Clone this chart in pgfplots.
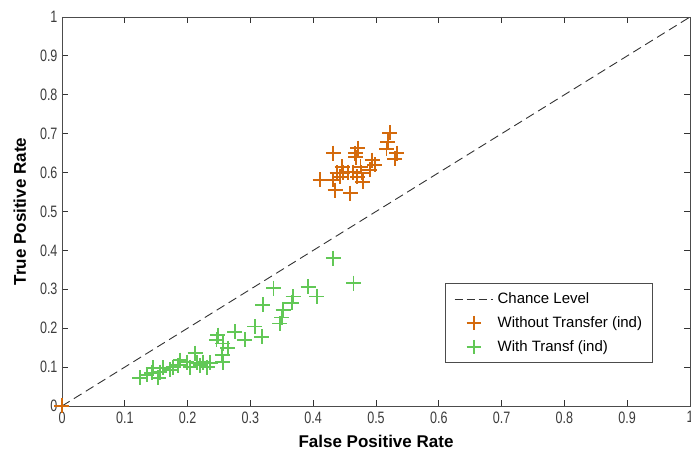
\documentclass[border=0pt]{standalone}
\usepackage{fontspec}
\setmainfont{Liberation Sans}
\usepackage{pgfplots}
\pgfplotsset{compat=1.18}
\definecolor{orng}{RGB}{212,106,12}
\definecolor{grn}{RGB}{98,200,86}
\definecolor{tickgray}{RGB}{60,60,60}
\newcommand{\tl}[1]{\scalebox{0.76}[1]{#1}}
\pgfplotsset{
  leglinedash/.style={legend image code/.code={\draw[black!80, line width=0.9pt, dash pattern=on 8pt off 4pt] (0pt,0pt) -- (38pt,0pt);}},
  legmark/.style={legend image code/.code={\draw[color=#1, mark=+, mark size=7pt, line width=1.7pt, mark options={color=#1}] plot coordinates {(19pt,0pt)};}},
}
\begin{document}
\begin{tikzpicture}[x=1pt,y=1pt]
\begin{axis}[
  scale only axis,
  width=628pt, height=389pt,
  xmin=0, xmax=1, ymin=0, ymax=1,
  xtick={0,0.1,...,1}, ytick={0,0.1,...,1},
  xticklabels={\tl{0},\tl{0.1},\tl{0.2},\tl{0.3},\tl{0.4},\tl{0.5},\tl{0.6},\tl{0.7},\tl{0.8},\tl{0.9},\tl{1}},
  yticklabels={\tl{0},\tl{0.1},\tl{0.2},\tl{0.3},\tl{0.4},\tl{0.5},\tl{0.6},\tl{0.7},\tl{0.8},\tl{0.9},\tl{1}},
  /pgf/number format/assume math mode=true,
  tick label style={font=\fontsize{16.5}{18}\selectfont, text=tickgray},
  xticklabel style={yshift=-2pt},
  yticklabel style={xshift=-1pt},
  tick style={black!80, line width=0.8pt},
  major tick length=6pt,
  tick align=inside,
  xtick pos=both, ytick pos=both,
  axis line style={black!70, line width=0.9pt},
  xlabel={\textbf{False Positive Rate}},
  ylabel={\textbf{True Positive Rate}},
  label style={font=\fontsize{17}{19}\selectfont},
  xlabel style={at={(axis description cs:0.5,-0.09)}, anchor=center},
  ylabel style={at={(axis description cs:-0.067,0.5)}, anchor=center},
  legend style={at={(0.941,0.111)}, anchor=south east, draw=black!70, line width=0.7pt,
    font=\fontsize{15}{17}\selectfont, row sep=8.5pt, inner xsep=9pt, inner ysep=8pt,
    nodes={inner sep=1.5pt}},
  legend cell align=left,
  every axis plot/.append style={line width=1.6pt},
  clip=false,
]
\addplot[black!80, line width=0.9pt, dash pattern=on 9pt off 5pt, mark=none, leglinedash] coordinates {(0,0) (1,1)};
\addlegendentry{\hspace{3pt}Chance Level}
\addplot[only marks, mark=+, mark size=7.5pt, orng, legmark=orng] coordinates {
(0,0)
(0.522,0.702) (0.519,0.679) (0.517,0.661) (0.533,0.650) (0.530,0.635)
(0.432,0.650) (0.467,0.650) (0.471,0.663) (0.494,0.632) (0.498,0.620)
(0.490,0.607) (0.446,0.615) (0.475,0.615) (0.411,0.581) (0.432,0.581)
(0.438,0.599) (0.447,0.599) (0.455,0.601) (0.463,0.601) (0.477,0.599)
(0.479,0.576) (0.435,0.555) (0.459,0.547) (0.443,0.589) (0.470,0.589)
(0.468,0.640)
};
\addlegendentry{\hspace{3pt}Without Transfer (ind)}
\addplot[only marks, mark=+, mark size=7.5pt, grn, legmark=grn] coordinates {
(0.432,0.380) (0.464,0.316) (0.337,0.303) (0.320,0.260) (0.368,0.281)
(0.366,0.265) (0.392,0.306) (0.406,0.281) (0.352,0.247) (0.350,0.227)
(0.347,0.212) (0.307,0.204) (0.318,0.178) (0.291,0.170) (0.275,0.191)
(0.248,0.182) (0.246,0.170) (0.256,0.161) (0.264,0.149) (0.255,0.131)
(0.256,0.113) (0.236,0.111) (0.225,0.113) (0.212,0.136) (0.215,0.111)
(0.204,0.100) (0.188,0.118) (0.185,0.105) (0.177,0.100) (0.172,0.093)
(0.161,0.098) (0.156,0.087) (0.145,0.098) (0.143,0.085) (0.135,0.080)
(0.124,0.072) (0.153,0.072) (0.199,0.113) (0.231,0.100) (0.220,0.105)
};
\addlegendentry{\hspace{3pt}With Transf (ind)}
\end{axis}
\pgfresetboundingbox
\path[use as bounding box] ([xshift=-62pt,yshift=-49pt]current axis.south west) rectangle ([xshift=1pt,yshift=17pt]current axis.north east);
\end{tikzpicture}
\end{document}
